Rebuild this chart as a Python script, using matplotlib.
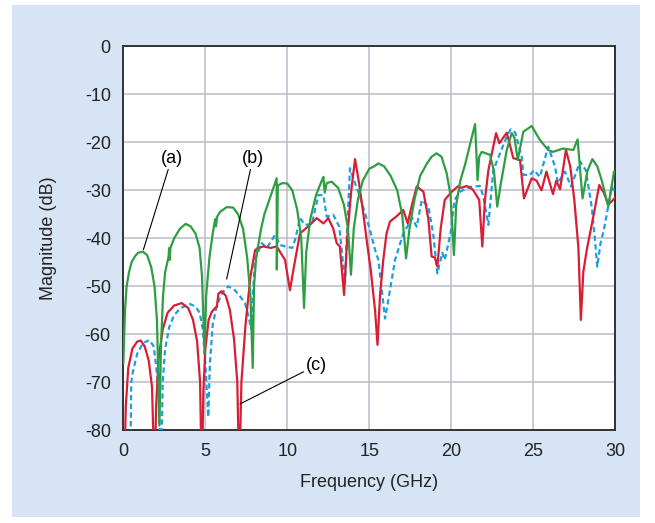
import matplotlib
matplotlib.use("Agg")
import matplotlib.pyplot as plt
from matplotlib.patches import Rectangle

plt.rcParams['font.family'] = ['Liberation Sans', 'DejaVu Sans']
plt.rcParams['axes.unicode_minus'] = False

# (a) green curve: frequency in GHz, magnitude in dB
a_freq = [0.0, 0.1, 0.2, 0.35, 0.5, 0.7, 0.9, 1.2, 1.45, 1.7, 1.9, 2.05, 2.2,
          2.3, 2.42, 2.55, 2.75, 2.8, 2.83, 2.87, 3.1, 3.45, 3.8, 4.1, 4.4, 4.65, 4.8, 4.95,
          5.05, 5.25, 5.45, 5.6, 5.65, 5.72, 5.9, 6.3, 6.7, 7.0, 7.3, 7.55, 7.75, 7.89,
          7.97, 8.1, 8.4, 8.6, 9.0, 9.35, 9.36, 9.42, 9.7, 10.0, 10.3, 10.6, 10.85, 11.02,
          11.15, 11.4, 11.75, 12.1, 12.2, 12.28, 12.4, 12.7, 13.1, 13.45, 13.7, 13.88,
          14.05, 14.3, 14.6, 15.0, 15.3, 15.55, 15.9, 16.3, 16.7, 17.0, 17.15, 17.24,
          17.45, 17.75, 18.1, 18.5, 18.8, 19.1, 19.4, 19.72, 19.95, 20.16,
          20.3, 20.55, 20.85, 21.1, 21.45, 21.6, 21.7, 21.85, 22.36, 22.6, 22.8,
          23.0, 23.38, 23.68, 23.85, 24.05, 24.39, 24.9, 25.4, 25.9, 26.2, 26.8, 27.44, 27.7, 28.0,
          28.3, 28.6, 28.9, 29.17, 29.57, 29.92, 30.0]
a_mag = [-66, -55, -50, -47, -45, -43.8, -43, -42.8, -43.5, -46, -50, -57, -79,
         -62, -52, -47, -44, -42, -44.5, -42, -40, -38, -37, -37.5, -39, -42, -48, -64,
         -52, -44, -39, -36, -37.5, -35.5, -34.5, -33.5, -33.6, -35, -38, -44, -52, -67,
         -50, -44, -38, -35, -31, -27.5, -46.5, -29, -28.5, -28.6, -30, -34, -40, -54.5,
         -43, -36, -31, -28, -27.2, -30.5, -28.5, -28.2, -29.5, -33, -38, -47.6,
         -38, -32, -28, -25.5, -25, -24.4, -25, -27, -30, -35, -40.7, -44.2,
         -38, -32, -27, -24.5, -23, -22.3, -23, -26.5, -31, -43.5,
         -33, -28, -24.5, -21, -16.2, -27.9, -23, -22, -22.6, -26, -33.4,
         -29, -21.6, -18.1, -19, -23.7, -17.8, -16.6, -19.5, -21.6, -22, -21.3, -21.6, -19.4, -31.7,
         -26, -23.5, -25, -27.9, -33.4, -26.1, -26]

# (b) red curve
b_freq = [0.05, 0.15, 0.3, 0.55, 0.85, 1.06, 1.3, 1.55, 1.75, 1.9,
          2.0, 2.15, 2.4, 2.7, 3.1, 3.56, 3.95, 4.25, 4.5, 4.68, 4.78,
          4.88, 5.0, 5.2, 5.4, 5.6, 5.7, 5.8, 6.0, 6.25, 6.5, 6.75, 6.95, 7.07,
          7.2, 7.45, 7.75, 8.03, 8.2, 8.54, 9.0, 9.35, 9.86, 10.16, 10.4, 10.77, 11.38, 11.79,
          12.2, 12.5, 12.8, 13.01, 13.2, 13.46, 13.65, 13.9, 14.13, 14.35, 14.6, 14.84, 15.1,
          15.35, 15.5, 15.65, 15.85, 16.05, 16.26, 16.67, 17.07, 17.34, 17.6, 17.89, 18.3,
          18.6, 18.8, 19.0, 19.15, 19.35, 19.6, 20.02, 20.43, 20.6, 20.94, 21.3, 21.7, 21.89,
          22.05, 22.26, 22.73, 22.93, 23.38, 23.78, 24.19, 24.43, 24.9, 25.2, 25.5, 25.8, 26.2,
          26.4, 26.63, 26.99, 27.25, 27.5, 27.75, 27.9, 28.05, 28.26, 28.66, 29.02, 29.3, 29.57,
          29.92, 30.0]
b_mag = [-90, -75, -67, -63, -61.5, -61.3, -62.5, -65.5, -71, -90,
         -75, -65, -59, -55.5, -54, -53.5, -54.5, -57, -61.5, -70, -90,
         -72, -63, -57, -55.3, -54.5, -54.3, -51.5, -51, -52, -55, -61, -70, -90,
         -70, -58, -48, -42.5, -42, -41.7, -42, -41.7, -44.5, -50.8, -46, -39, -37.2, -35.8,
         -36.9, -35.8, -38, -41, -41.7, -51.8, -40, -30, -23.5, -28, -34, -40.4, -47,
         -55, -62.2, -52, -44.5, -39, -36.5, -35.4, -34.1, -36.9, -33, -29.2, -30.3,
         -36, -43.8, -44, -45.9, -38, -32, -30.3, -29.1, -29.5, -29.1, -29.8, -32, -41.7,
         -32, -25.8, -18.1, -20.2, -18, -23.3, -23.7, -31.7, -27.5, -28, -30, -26.1, -30.8,
         -28, -29.8, -21.6, -25, -32, -42, -57, -47, -42.4, -35.5, -28.9, -30.5, -33,
         -31.8, -31.5]

# (c) blue dashed curve
c_freq = [0.42, 0.48, 0.6, 0.85, 1.2, 1.59, 1.85, 2.0, 2.15, 2.3,
          2.4, 2.55, 2.8, 3.1, 3.5, 4.07, 4.4, 4.65, 4.85, 5.0, 5.18,
          5.28, 5.45, 5.7, 6.0, 6.4, 6.8, 7.1, 7.42, 7.65, 7.79,
          7.9, 8.02, 8.44, 8.75, 9.25, 9.55, 10.0, 10.3, 10.5, 10.77, 11.08, 11.5, 11.89, 12.2,
          12.4, 12.8, 13.17, 13.52, 13.65, 13.82, 14.1, 14.43, 15.04, 15.35, 15.55, 15.8, 15.96,
          16.2, 16.57, 17.07, 17.62, 17.89, 18.2, 18.6, 18.9, 19.15, 19.45, 19.6, 19.95,
          20.2, 20.53, 21.1, 21.75, 21.95, 22.26, 22.56, 22.97, 23.38, 23.62, 23.9, 24.29, 24.4,
          24.8, 25.04, 25.4, 25.91, 26.32, 26.5, 26.93, 27.3, 27.85, 28.2, 28.56, 28.75, 28.9,
          29.1, 29.3, 29.6, 29.78, 29.9, 30.0]
c_mag = [-90, -70, -67.5, -64, -61.8, -61.2, -62.5, -66.6, -72, -90,
         -70, -63, -58.5, -56, -54.5, -53.7, -54.2, -55.5, -59, -66, -77.2,
         -66, -58, -54, -51.5, -50, -50.8, -52, -53.5, -56.5, -58.8,
         -52, -44.5, -41, -42, -39.3, -41.4, -41.8, -42, -40, -35.8, -37.2, -37, -31, -31,
         -35.5, -35.1, -37.6, -49.4, -38, -25.4, -28.3, -31.3, -38.3, -42.4, -44.5, -52, -56.7,
         -52, -44.5, -39, -35.8, -37.6, -32, -33.4, -39.2, -47.3, -43, -44.5, -39,
         -32, -30.3, -29.3, -29.1, -31.3, -37.2, -25.8, -22.3, -18.8, -17.3, -18, -23, -26.8,
         -26.8, -25.8, -27.2, -20.9, -25, -28.5, -26.1, -29.2, -24, -25.8, -33.4, -40, -45.9,
         -41, -38.3, -32.7, -29.2, -30, -30]

fig = plt.figure(figsize=(6.55, 5.23), dpi=100)
fig.patch.set_facecolor('white')
fig.patches.append(Rectangle((0.018, 0.012), 0.959, 0.979, transform=fig.transFigure,
                             facecolor='#d6e4f5', edgecolor='none', zorder=-10))

ax = fig.add_axes([0.1883, 0.1772, 0.7511, 0.7343])
ax.set_facecolor('white')

ax.plot(c_freq, c_mag, color='#1c9fe0', lw=1.6, dashes=(2.4, 1.5), zorder=3)
ax.plot(b_freq, b_mag, color='#d81e34', lw=1.6, solid_joinstyle='round', zorder=4)
ax.plot(a_freq, a_mag, color='#2e9e44', lw=1.6, solid_joinstyle='round', zorder=5)

ax.set_xlim(0, 30)
ax.set_ylim(-80, 0)
ax.set_xticks(range(0, 31, 5))
ax.set_yticks(range(-80, 1, 10))
ax.grid(True, color='#b9bdc9', lw=1.1)
ax.set_axisbelow(True)
ax.tick_params(length=0, labelsize=13, pad=9, colors='#222222')
for s in ax.spines.values():
    s.set_color('#333333')
    s.set_linewidth(1.4)

ax.set_xlabel('Frequency (GHz)', fontsize=13, labelpad=10, color='#222222')
ax.set_ylabel('Magnitude (dB)', fontsize=13, labelpad=20, color='#222222')

arrow = dict(arrowstyle='-', color='black', lw=0.8, shrinkA=0, shrinkB=0)
ax.annotate('(a)', xy=(1.22, -42.4), xytext=(2.95, -23.3), fontsize=13, ha='center', va='center',
            arrowprops=arrow, zorder=6)
ax.annotate('(b)', xy=(6.3, -48.5), xytext=(7.9, -23.3), fontsize=13, ha='center', va='center',
            arrowprops=arrow, zorder=6)
ax.annotate('(c)', xy=(7.12, -74.5), xytext=(11.8, -66.4), fontsize=13, ha='center', va='center',
            arrowprops=arrow, zorder=6)

fig.savefig('out.png', dpi=100, facecolor=fig.get_facecolor())
